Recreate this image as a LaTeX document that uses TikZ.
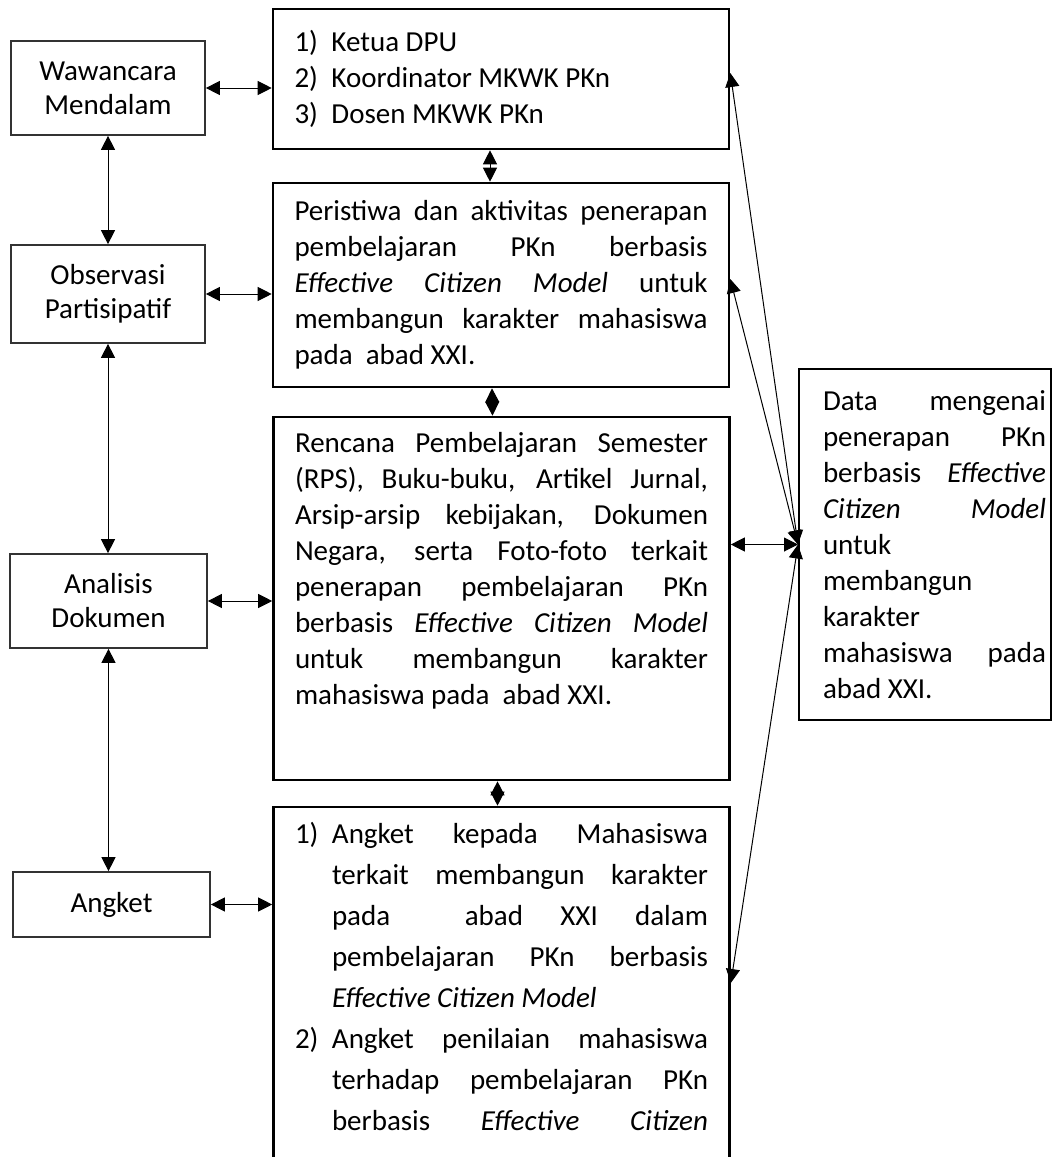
\documentclass[tikz,border=0pt]{standalone}
\usepackage{fontspec}
\setmainfont{Carlito}
\usetikzlibrary{arrows.meta}

\newcommand{\jline}[1]{\makebox[\linewidth][s]{#1}\par}
\newcommand{\itemline}[2]{\makebox[18.5pt][l]{#1}\makebox[188pt][s]{#2}\par}
\newcommand{\contline}[1]{\hspace*{18.5pt}\makebox[188pt][s]{#1}\par}

\begin{document}
\begin{tikzpicture}[x=0.5pt,y=-0.5pt,
		font=\fontsize{14.5}{18}\selectfont,
		metode/.style={draw=black!80,line width=0.85pt,minimum width=97pt,minimum height=47pt,inner sep=0pt,align=center,font=\fontsize{14.5}{17}\selectfont},
		sumber/.style={draw,line width=1.3pt,minimum width=228pt,inner sep=0pt},
		link/.style={{Triangle[length=7pt,width=7pt]}-{Triangle[length=7pt,width=7pt]},line width=0.5pt}]
			\useasboundingbox (0,0) rectangle (1053,1157);
			\clip (0,0) rectangle (1053,1157);
			\node[metode] (wawancara) at (108,88) {Wawancara\\Mendalam};
			\node[metode,minimum height=49pt] (observasi) at (108,294) {Observasi\\Partisipatif};
			\node[metode,minimum width=98.5pt] (analisis) at (108.5,601) {Analisis\\Dokumen};
			\node[metode,minimum width=98.5pt,minimum height=32.5pt] (angketm) at (111.5,904.5) {Angket};
			\node[sumber,minimum height=70pt] (ketua) at (501,79) {\parbox{206.5pt}{%
				\makebox[18.5pt][l]{1)}Ketua DPU\par
				\makebox[18.5pt][l]{2)}Koordinator MKWK PKn\par
				\makebox[18.5pt][l]{3)}Dosen MKWK PKn}};
			\node[sumber,minimum height=102pt] (peristiwa) at (501,285) {\parbox{206.5pt}{%
				\jline{Peristiwa dan aktivitas penerapan}
				\jline{pembelajaran PKn berbasis}
				\jline{\textit{Effective Citizen Model} untuk}
				\jline{membangun karakter mahasiswa}
				pada\ \ abad XXI.}};
			\node[sumber] (rencana) at (501.5,598.5) {\parbox[c][181.5pt][t]{206.5pt}{\vspace*{7.5pt}%
				\jline{Rencana Pembelajaran Semester}
				\jline{(RPS), Buku-buku, Artikel Jurnal,}
				\jline{Arsip-arsip kebijakan, Dokumen}
				\jline{Negara, serta Foto-foto terkait}
				\jline{penerapan pembelajaran PKn}
				\jline{berbasis \textit{Effective Citizen Model}}
				\jline{untuk membangun karakter}
				mahasiswa pada\ \ abad XXI.}};
			\node[sumber] (angket) at (501.5,1017) {\parbox[c][210pt][t]{206.5pt}{\vspace*{7.5pt}%
				\fontsize{14.5}{20.5}\selectfont
				\itemline{1)}{Angket kepada Mahasiswa}
				\contline{terkait membangun karakter}
				\contline{pada\ \ abad XXI dalam}
				\contline{pembelajaran PKn berbasis}
				\hspace*{18.5pt}\textit{Effective Citizen Model}\par
				\itemline{2)}{Angket penilaian mahasiswa}
				\contline{terhadap pembelajaran PKn}
				\contline{berbasis \textit{Effective Citizen}}}};
			\node[draw,line width=1pt,minimum width=126pt,minimum height=175.5pt,inner sep=0pt] (data) at (925,544.5) {\hspace*{9.5pt}\parbox{111.5pt}{%
				\jline{Data mengenai}
				\jline{penerapan PKn}
				\jline{berbasis \textit{Effective}}
				\jline{\textit{Citizen} \textit{Model}}
				untuk\par
				membangun\par
				karakter\par
				\jline{mahasiswa pada}
				abad XXI.}};
			\draw[link] (wawancara.south) -- (wawancara.south |- observasi.north);
			\draw[link] (observasi.south) -- (observasi.south |- analisis.north);
			\draw[link] (analisis.south) -- (analisis.south |- angketm.north);
			\draw[link] (wawancara.east) -- (wawancara.east -| ketua.west);
			\draw[link] (observasi.east) -- (observasi.east -| peristiwa.west);
			\draw[link] (analisis.east) -- (analisis.east -| rencana.west);
			\draw[link] (angketm.east) -- (angketm.east -| angket.west);
			\draw[link] ([xshift=-5.5pt]ketua.south) -- ([xshift=-5.5pt]peristiwa.north);
			\draw[link] ([xshift=-4.5pt]peristiwa.south) -- ([xshift=-4.5pt]rencana.north);
			\draw[link] ([xshift=-2pt]rencana.south) -- ([xshift=-2pt]angket.north);
			\draw[link] (data.west) -- ([yshift=3pt]ketua.east);
			\draw[link] (data.west) -- ([yshift=3pt]peristiwa.east);
			\draw[link] (data.west) -- (data.west -| rencana.east);
			\draw[link] (data.west) -- ([yshift=17pt]angket.east);
		\end{tikzpicture}
\end{document}
